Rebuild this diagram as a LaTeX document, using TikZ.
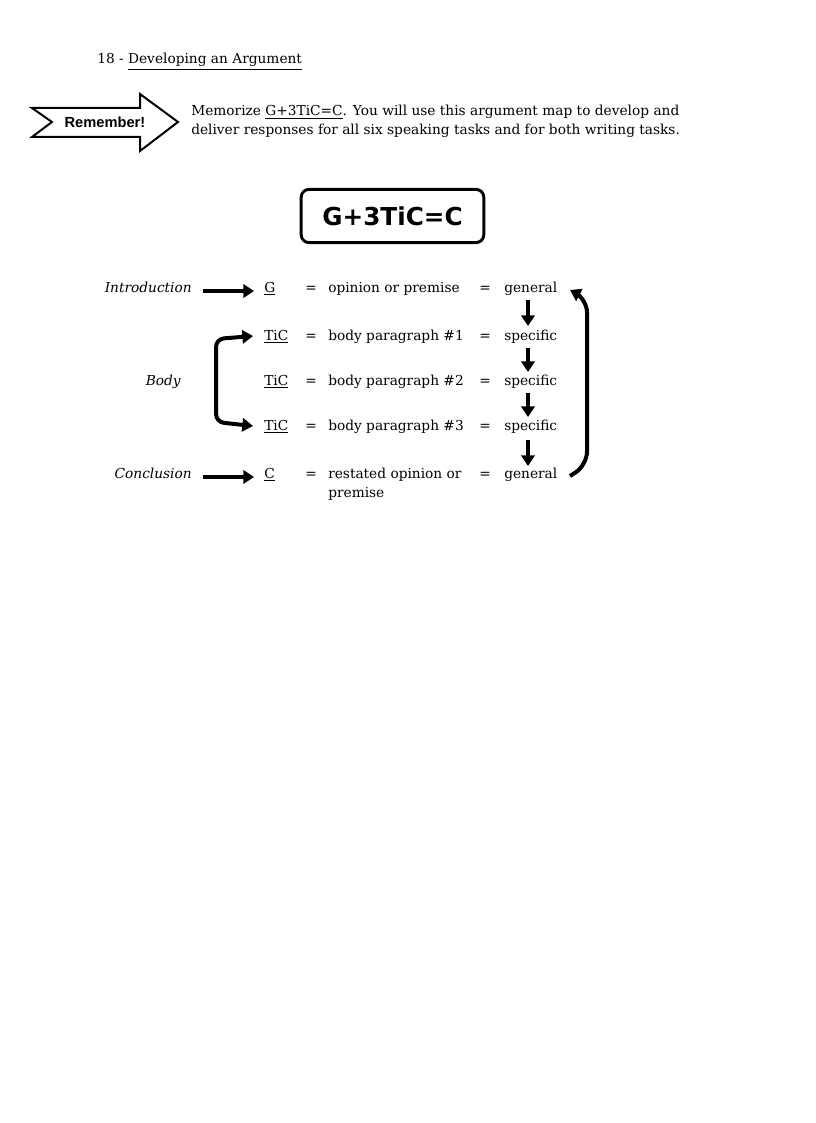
\documentclass[tikz,border=0pt]{standalone}
\usepackage{fontspec}
\setmainfont{DejaVu Serif}
\newfontfamily\hsans{Liberation Sans}
\newfontfamily\vsans{DejaVu Sans}
\usetikzlibrary{arrows.meta}
\begin{document}
\begin{tikzpicture}[x=0.75pt,y=-0.75pt,
  txt/.style={anchor=base west,inner sep=0pt,font=\fontsize{10.3}{12}\selectfont},
  lab/.style={anchor=base east,inner sep=0pt,font=\fontsize{10.3}{12}\selectfont\itshape},
  thk/.style={line width=3pt,-{Triangle[length=8pt,width=10pt]}}]
\useasboundingbox (0,0) rectangle (816,1123);
\node[txt] (hdr) at (97,64) {18 - \underline{Developing an Argument}};
% Remember arrow
\draw[line width=1.5pt,line join=miter] (32,108) -- (140,108) -- (140,94) -- (178,122) -- (140,151) -- (140,137) -- (32,137) -- (52,122) -- cycle;
\node[font=\hsans\bfseries\fontsize{11}{13}\selectfont,inner sep=0pt] (rem) at (105,122.5) {Remember!};
\node[txt] (m1) at (191,116) {Memorize \underline{G+3TiC=C}. You will use this argument map to develop and};
\node[txt] (m2) at (191,135) {deliver responses for all six speaking tasks and for both writing tasks.};
% title box
\node[draw,line width=2.2pt,rounded corners=6pt,inner sep=0pt,
  minimum width=137pt,minimum height=40pt,font=\vsans\bfseries\fontsize{18.5}{22}\selectfont] (title) at (392.5,216) {G+3TiC=C};
% rows
\foreach \n/\y/\a/\b/\c in {r1/292/G/opinion or premise/general,
  r2/340/TiC/body paragraph \#1/specific,
  r3/385/TiC/body paragraph \#2/specific,
  r4/430/TiC/body paragraph \#3/specific,
  r5/478/C/restated opinion or/general}{
  \node[txt] (\n a) at (264,\y) {\underline{\a}};
  \node[txt] (\n e) at (305,\y) {=};
  \node[txt] (\n b) at (328,\y) {\b};
  \node[txt] (\n f) at (479,\y) {=};
  \node[txt] (\n c) at (504,\y) {\c};
}
\node[txt] (r5d) at (328,497) {premise};
\node[lab] (intro) at (192,292) {Introduction};
\node[lab] (body) at (181,385) {Body};
\node[lab] (concl) at (192,478) {Conclusion};
\coordinate (i1) at (203,291);
\coordinate (c1) at (203,477);
\draw[thk] (i1) -- (254,291);
\draw[thk] (c1) -- (254,477);
% down arrows
\foreach \s/\t in {300/326,348/372,393/417,440/466}{
  \draw[thk] (528,\s) -- (528,\t);}
% left bracket
\draw[line width=3pt,{Triangle[length=8pt,width=10pt]}-{Triangle[length=8pt,width=10pt]},rounded corners=6pt]
  (253,336) -- (216,339) -- (216,422) -- (253,426);
% right bracket
\draw[line width=3pt,{Triangle[length=8pt,width=10pt]}-,rounded corners=10pt]
  (570,290) -- (587,299) -- (587,465) -- (570,476);
\end{tikzpicture}
\end{document}
